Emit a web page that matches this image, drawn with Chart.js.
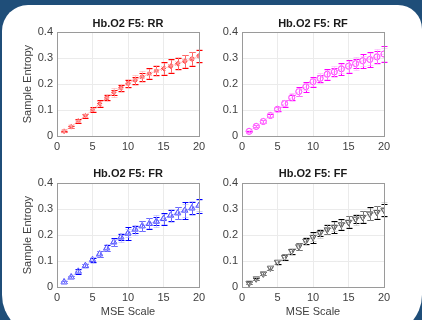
<!DOCTYPE html>
<html>
<head>
<meta charset="utf-8">
<script src="https://cdn.jsdelivr.net/npm/chart.js@4/dist/chart.umd.min.js"></script>
<style>
  html, body { margin: 0; padding: 0; }
  body { width: 422px; height: 320px; background: #1f4e79; position: relative; overflow: hidden; }
  #panel { position: absolute; left: 2px; top: 5px; width: 420px; height: 330px; background: #fff;
           border-radius: 26px 24px 40px 40px; }
  canvas { position: absolute; }
</style>
</head>
<body>
<div id="panel"></div>
<canvas id="c1" width="211" height="160" style="left:0;top:0"></canvas>
<canvas id="c2" width="211" height="160" style="left:211px;top:0"></canvas>
<canvas id="c3" width="211" height="160" style="left:0;top:160px"></canvas>
<canvas id="c4" width="211" height="160" style="left:211px;top:160px"></canvas>
<script>
// MSE scale factors
var scales = [1,2,3,4,5,6,7,8,9,10,11,12,13,14,15,16,17,18,19,20];

// RR
var rrMean     = [0.018,0.036,0.058,0.078,0.101,0.125,0.147,0.168,0.186,0.203,0.215,0.228,0.240,0.251,0.260,0.269,0.279,0.288,0.297,0.309];
var rrErr      = [0.003,0.004,0.006,0.008,0.010,0.012,0.010,0.011,0.012,0.013,0.014,0.016,0.021,0.017,0.025,0.026,0.021,0.025,0.027,0.022];
var rrPaleMean = [0.019,0.037,0.059,0.080,0.102,0.124,0.148,0.168,0.185,0.202,0.216,0.229,0.241,0.252,0.261,0.270,0.280,0.289,0.299,0.308];
var rrPaleErr  = [0.004,0.005,0.004,0.006,0.007,0.010,0.015,0.016,0.017,0.018,0.019,0.020,0.018,0.021,0.021,0.023,0.024,0.023,0.025,0.028];

// RF
var rfMean     = [0.018,0.037,0.056,0.079,0.103,0.125,0.148,0.171,0.190,0.209,0.222,0.238,0.247,0.259,0.269,0.279,0.290,0.295,0.305,0.316];
var rfErr      = [0.003,0.004,0.005,0.005,0.008,0.014,0.010,0.018,0.019,0.020,0.014,0.021,0.016,0.023,0.025,0.018,0.027,0.029,0.024,0.030];
var rfPaleMean = [0.019,0.038,0.057,0.080,0.102,0.126,0.149,0.170,0.191,0.208,0.223,0.237,0.248,0.260,0.268,0.280,0.289,0.296,0.306,0.315];
var rfPaleErr  = [0.004,0.005,0.006,0.007,0.010,0.011,0.016,0.014,0.015,0.015,0.019,0.017,0.022,0.019,0.020,0.026,0.021,0.024,0.030,0.026];

// FR
var frMean     = [0.019,0.038,0.060,0.082,0.105,0.127,0.150,0.173,0.192,0.207,0.222,0.235,0.244,0.253,0.263,0.276,0.285,0.295,0.304,0.314];
var frErr      = [0.003,0.004,0.008,0.006,0.008,0.013,0.010,0.016,0.012,0.026,0.014,0.018,0.022,0.016,0.024,0.020,0.022,0.034,0.024,0.027];
var frPaleMean = [0.020,0.039,0.061,0.081,0.104,0.128,0.151,0.172,0.191,0.208,0.221,0.236,0.245,0.254,0.262,0.275,0.286,0.294,0.305,0.313];
var frPaleErr  = [0.004,0.005,0.006,0.008,0.010,0.011,0.013,0.014,0.016,0.017,0.019,0.020,0.019,0.022,0.020,0.025,0.024,0.026,0.028,0.021];

// FF
var ffMean     = [0.015,0.032,0.051,0.073,0.096,0.115,0.138,0.156,0.177,0.192,0.208,0.221,0.231,0.241,0.250,0.262,0.269,0.282,0.288,0.297];
var ffErr      = [0.003,0.004,0.005,0.006,0.007,0.011,0.009,0.015,0.011,0.021,0.013,0.016,0.022,0.021,0.023,0.017,0.024,0.025,0.026,0.022];
var ffPaleMean = [0.016,0.033,0.052,0.072,0.095,0.116,0.137,0.157,0.176,0.193,0.207,0.222,0.232,0.242,0.251,0.261,0.270,0.281,0.289,0.298];
var ffPaleErr  = [0.004,0.005,0.006,0.007,0.009,0.010,0.012,0.013,0.015,0.016,0.018,0.019,0.018,0.017,0.021,0.022,0.021,0.023,0.024,0.030];

var FONT = "'Liberation Sans', Arial, sans-serif";

function toPoints(xs, ys) {
    var pts = [];
    for (var i = 0; i < xs.length; i++) pts.push({ x: xs[i], y: ys[i] });
    return pts;
}

// draws the error bars of each dataset and the axes box
var errorBars = {
    id: 'errorBars',
    afterDatasetDraw: function (chart, args) {
        var ds = chart.data.datasets[args.index];
        if (!ds.errors) return;
        var xs = chart.scales.x, ys = chart.scales.y;
        var ctx = chart.ctx;
        ctx.save();
        ctx.strokeStyle = ds.barColor;
        ctx.lineWidth = 1;
        ctx.beginPath();
        for (var i = 0; i < ds.data.length; i++) {
            var p = ds.data[i], e = ds.errors[i];
            var px = Math.round(xs.getPixelForValue(p.x)) + 0.5;
            var top = Math.round(ys.getPixelForValue(p.y + e)) + 0.5;
            var bot = Math.round(ys.getPixelForValue(p.y - e)) + 0.5;
            ctx.moveTo(px, top); ctx.lineTo(px, bot);
            ctx.moveTo(px - 3, top); ctx.lineTo(px + 3, top);
            ctx.moveTo(px - 3, bot); ctx.lineTo(px + 3, bot);
        }
        ctx.stroke();
        ctx.restore();
    },
    afterDraw: function (chart) {
        var a = chart.chartArea, ctx = chart.ctx;
        ctx.save();
        ctx.strokeStyle = '#9a9a9a';
        ctx.lineWidth = 1;
        ctx.strokeRect(Math.round(a.left) + 0.5, Math.round(a.top) + 0.5,
                       Math.round(a.right - a.left), Math.round(a.bottom - a.top));
        ctx.restore();
    }
};

function makePlot(id, title, mean, err, paleMean, paleErr, color, paleColor, marker, opts) {
    var pointOpts = {
        pointStyle: marker.style,
        pointRotation: marker.rotation || 0,
        pointRadius: marker.radius,
        pointBorderWidth: 1,
        pointBackgroundColor: 'rgba(0,0,0,0)'
    };
    // dark series first (higher order is drawn first), translucent pale series over it
    var dark = Object.assign({
        data: toPoints(scales, mean), errors: err, barColor: color.bar, order: 2,
        borderColor: color.line, pointBorderColor: color.bar, borderWidth: 0.7, showLine: true
    }, pointOpts);
    var pale = Object.assign({
        data: toPoints(scales, paleMean), errors: paleErr, barColor: paleColor, order: 1,
        borderColor: paleColor, pointBorderColor: paleColor, borderWidth: 0, showLine: false
    }, pointOpts);

    new Chart(document.getElementById(id), {
        type: 'scatter',
        data: { datasets: [dark, pale] },
        options: {
            responsive: false,
            animation: false,
            devicePixelRatio: 1,
            layout: { padding: { left: 0, right: opts.padRight, top: 0, bottom: 0 } },
            plugins: {
                legend: { display: false },
                tooltip: { enabled: false },
                title: {
                    display: true, text: title, fullSize: false, color: '#1a1a1a',
                    font: { family: FONT, size: 11, weight: 'bold' },
                    padding: opts.titlePad
                }
            },
            scales: {
                x: {
                    type: 'linear', min: 0, max: 20,
                    ticks: { stepSize: 5, color: '#404040', padding: 4, font: { family: FONT, size: 11 } },
                    grid: { color: '#ebebeb', drawTicks: false },
                    border: { display: false },
                    title: { display: opts.xTitle, text: 'MSE Scale', color: '#404040',
                             font: { family: FONT, size: 11 }, padding: { top: 0, bottom: 1 } },
                    afterFit: function (s) { s.height = opts.xHeight; }
                },
                y: {
                    min: 0, max: 0.4,
                    ticks: { stepSize: 0.1, color: '#404040', padding: 4, font: { family: FONT, size: 11 } },
                    grid: { color: '#ebebeb', drawTicks: false },
                    border: { display: false },
                    title: { display: opts.yTitle, text: 'Sample Entropy', color: '#404040',
                             font: { family: FONT, size: 11 }, padding: { top: 21, bottom: 0 } },
                    afterFit: function (s) { s.width = opts.yWidth; }
                }
            }
        },
        plugins: [errorBars]
    });
}

var topPad = { top: 17, bottom: 2 };
var botPad = { top: 7, bottom: 3 };

makePlot('c1', 'Hb.O2 F5: RR', rrMean, rrErr, rrPaleMean, rrPaleErr,
    { bar: '#ff0000', line: 'rgba(255,0,0,0.35)' }, 'rgba(255,170,170,0.6)',
    { style: 'star', radius: 2.5 },
    { padRight: 12, yWidth: 57, xHeight: 24, xTitle: false, yTitle: true, titlePad: topPad });
makePlot('c2', 'Hb.O2 F5: RF', rfMean, rfErr, rfPaleMean, rfPaleErr,
    { bar: '#ff00ff', line: 'rgba(255,0,255,0.35)' }, 'rgba(255,170,255,0.6)',
    { style: 'circle', radius: 3 },
    { padRight: 38, yWidth: 31, xHeight: 24, xTitle: false, yTitle: false, titlePad: topPad });
makePlot('c3', 'Hb.O2 F5: FR', frMean, frErr, frPaleMean, frPaleErr,
    { bar: '#0000ff', line: 'rgba(0,0,255,0.35)' }, 'rgba(175,175,255,0.6)',
    { style: 'triangle', radius: 3.5 },
    { padRight: 12, yWidth: 57, xHeight: 33, xTitle: true, yTitle: true, titlePad: botPad });
makePlot('c4', 'Hb.O2 F5: FF', ffMean, ffErr, ffPaleMean, ffPaleErr,
    { bar: '#000000', line: 'rgba(0,0,0,0.3)' }, 'rgba(190,190,190,0.6)',
    { style: 'triangle', rotation: 180, radius: 3.5 },
    { padRight: 38, yWidth: 31, xHeight: 33, xTitle: true, yTitle: false, titlePad: botPad });
</script>
</body>
</html>
